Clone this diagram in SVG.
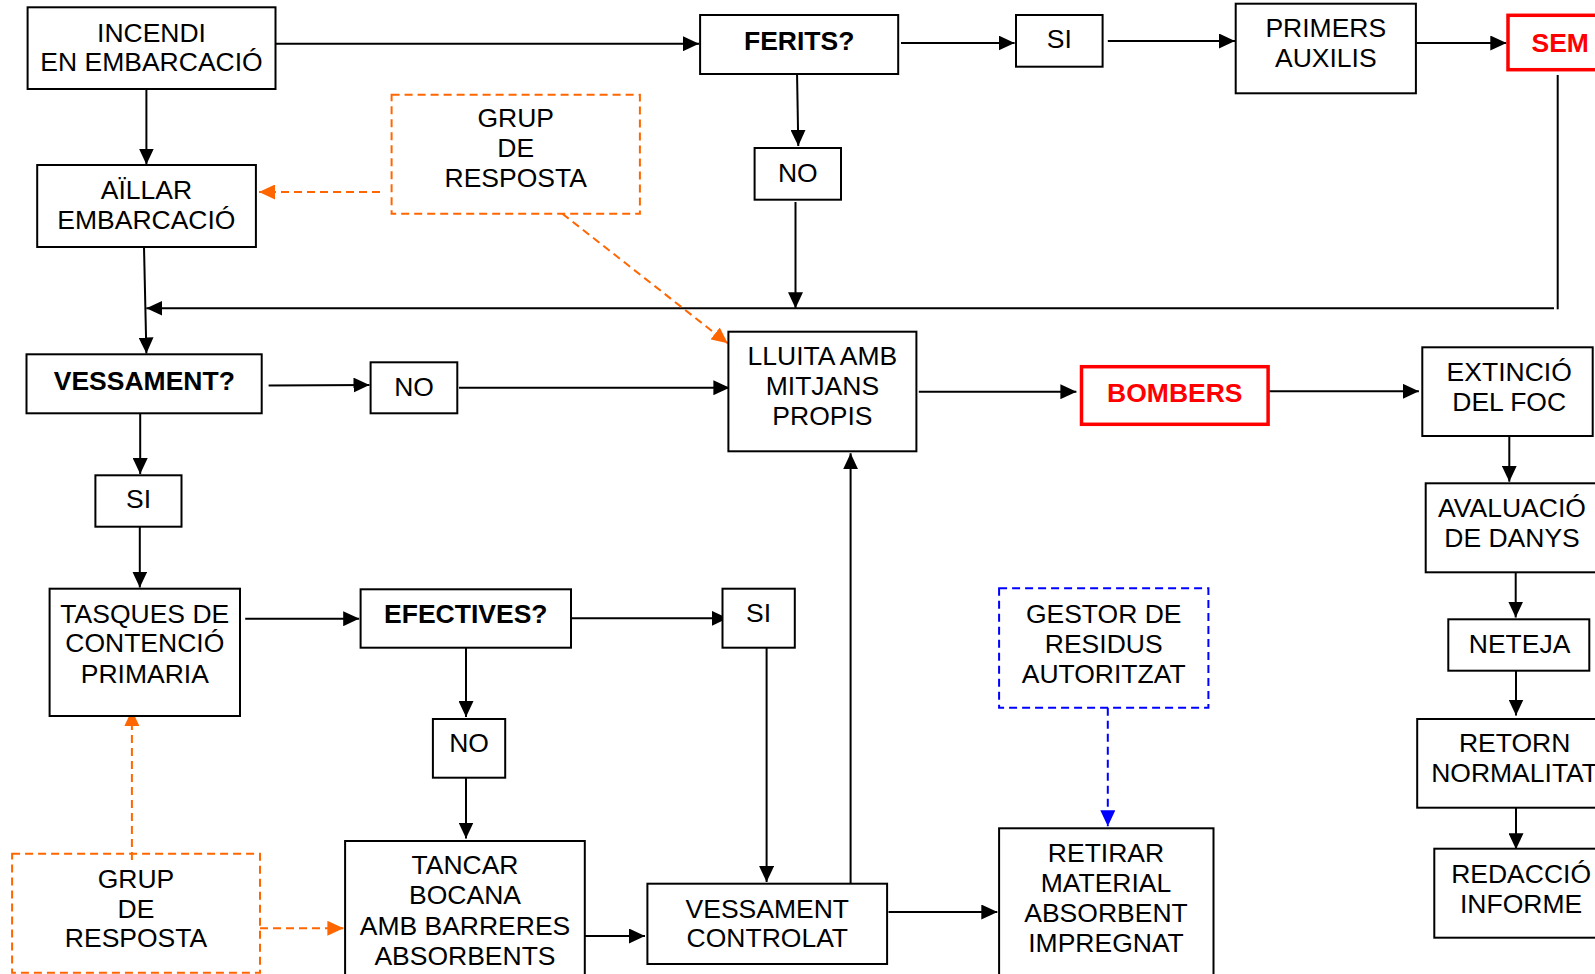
<svg xmlns="http://www.w3.org/2000/svg" width="1595" height="974" viewBox="0 0 1595 974">
<defs>
<marker id="ab" markerUnits="userSpaceOnUse" markerWidth="16" markerHeight="15" refX="16" refY="7.5" orient="auto"><path d="M0,0 L16,7.5 L0,15 z" fill="#000"/></marker>
<marker id="ao" markerUnits="userSpaceOnUse" markerWidth="16" markerHeight="15" refX="16" refY="7.5" orient="auto"><path d="M0,0 L16,7.5 L0,15 z" fill="#FF6600"/></marker>
<marker id="au" markerUnits="userSpaceOnUse" markerWidth="16" markerHeight="15" refX="16" refY="7.5" orient="auto"><path d="M0,0 L16,7.5 L0,15 z" fill="#0000FF"/></marker>
</defs>
<style>
text{font-family:"Liberation Sans",Arial,sans-serif;font-size:26.5px;fill:#000;text-anchor:middle}
.b{font-weight:bold}
.r{fill:#FF0000}
.box{fill:#fff;stroke:#000;stroke-width:2}
.rbox{fill:#fff;stroke:#FF0000;stroke-width:3.5}
.obox{fill:none;stroke:#FF6600;stroke-width:2;stroke-dasharray:8,5}
.ubox{fill:none;stroke:#0000FF;stroke-width:2;stroke-dasharray:8,5}
.c{fill:none;stroke:#000;stroke-width:2}
.ca{fill:none;stroke:#000;stroke-width:2;marker-end:url(#ab)}
.co{fill:none;stroke:#FF6600;stroke-width:2;stroke-dasharray:8,5;marker-end:url(#ao)}
.cu{fill:none;stroke:#0000FF;stroke-width:2;stroke-dasharray:8,5;marker-end:url(#au)}
</style>
<rect width="1595" height="974" fill="#fff"/>
<g id="connectors">
<line class="ca" x1="275.5" y1="43.7" x2="699" y2="43.7"/>
<line class="ca" x1="146.4" y1="89" x2="146.4" y2="164.5"/>
<line class="ca" x1="144" y1="247" x2="146.4" y2="353.5"/>
<line class="ca" x1="901" y1="43" x2="1014.6" y2="43"/>
<line class="ca" x1="797" y1="71" x2="798.3" y2="146"/>
<line class="ca" x1="795.5" y1="202" x2="795.5" y2="308.3"/>
<line class="ca" x1="1107.8" y1="41" x2="1235" y2="41"/>
<line class="ca" x1="1416" y1="43" x2="1506.3" y2="43"/>
<line class="c" x1="1557.7" y1="75" x2="1557.7" y2="309.3"/>
<line class="ca" x1="1554" y1="308.3" x2="146.4" y2="308.3"/>
<line class="co" x1="380" y1="192" x2="259" y2="192"/>
<line class="co" x1="562.4" y1="213.7" x2="727.7" y2="343.3"/>
<line class="ca" x1="268.6" y1="385.5" x2="369.5" y2="385"/>
<line class="ca" x1="459" y1="387.7" x2="729.4" y2="387.7"/>
<line class="ca" x1="140.2" y1="413.3" x2="140.2" y2="474"/>
<line class="ca" x1="139.8" y1="526.7" x2="139.8" y2="587.5"/>
<line class="ca" x1="918.8" y1="391.7" x2="1076.4" y2="391.7"/>
<line class="ca" x1="1268" y1="391.3" x2="1418.9" y2="391.3"/>
<line class="ca" x1="1509.3" y1="436" x2="1509.3" y2="481.7"/>
<line class="ca" x1="1515.7" y1="572.3" x2="1515.7" y2="617.5"/>
<line class="ca" x1="1516" y1="670.7" x2="1516" y2="715.5"/>
<line class="ca" x1="1516" y1="807.7" x2="1516" y2="849.3"/>
<line class="ca" x1="245.2" y1="618.7" x2="359.2" y2="618.7"/>
<line class="ca" x1="571" y1="618.3" x2="727.7" y2="618.3"/>
<line class="ca" x1="466" y1="647.7" x2="466" y2="717"/>
<line class="ca" x1="466" y1="777.7" x2="466" y2="838.5"/>
<line class="ca" x1="766.6" y1="647.7" x2="766.6" y2="882"/>
<line class="ca" x1="850.6" y1="883.7" x2="850.6" y2="453.3"/>
<line class="ca" x1="584.8" y1="936" x2="645" y2="936"/>
<line class="ca" x1="888.5" y1="912" x2="997.3" y2="912"/>
<line class="co" x1="131.9" y1="860" x2="131.9" y2="710"/>
<line class="co" x1="260" y1="928.3" x2="343.4" y2="928.3"/>
<line class="cu" x1="1107.8" y1="707.7" x2="1107.8" y2="826.3"/>
</g>
<g id="incendi"><rect class="box" x="27.6" y="7.3" width="247.9" height="81.7"/><text x="151.5" y="41.7">INCENDI</text><text x="151.5" y="70.7">EN EMBARCACIÓ</text></g>
<g id="aillar"><rect class="box" x="37.2" y="165" width="218.7" height="82"/><text x="146.4" y="199.3">AÏLLAR</text><text x="146.4" y="228.7">EMBARCACIÓ</text></g>
<g id="grup1"><rect class="obox" x="391.6" y="94.7" width="248.3" height="119"/><text x="515.7" y="126.5">GRUP</text><text x="515.7" y="156.5">DE</text><text x="515.7" y="186.5">RESPOSTA</text></g>
<g id="ferits"><rect class="box" x="700.1" y="15" width="198.1" height="59"/><text class="b" x="799.2" y="50">FERITS?</text></g>
<g id="si1"><rect class="box" x="1016" y="15" width="86.6" height="51.7"/><text x="1059.3" y="48">SI</text></g>
<g id="no1"><rect class="box" x="754.6" y="148" width="86.4" height="51.7"/><text x="797.8" y="181.7">NO</text></g>
<g id="primers"><rect class="box" x="1235.7" y="3.7" width="180.2" height="89.6"/><text x="1325.8" y="37.2">PRIMERS</text><text x="1325.8" y="67.2">AUXILIS</text></g>
<g id="sem"><rect class="rbox" x="1508" y="15.3" width="130" height="54.4"/><text class="b r" x="1531.5" y="51.7" style="text-anchor:start">SEM</text></g>
<g id="vessament"><rect class="box" x="26.5" y="354.3" width="235.2" height="59"/><text class="b" x="144.3" y="390">VESSAMENT?</text></g>
<g id="no2"><rect class="box" x="370.6" y="362.3" width="86.7" height="51"/><text x="414" y="395.7">NO</text></g>
<g id="lluita"><rect class="box" x="728.4" y="331.7" width="188" height="119.6"/><text x="822.4" y="365">LLUITA AMB</text><text x="822.4" y="395">MITJANS</text><text x="822.4" y="425">PROPIS</text></g>
<g id="bombers"><rect class="rbox" x="1081.5" y="366.7" width="186.6" height="57.6"/><text class="b r" x="1174.8" y="401.7">BOMBERS</text></g>
<g id="extincio"><rect class="box" x="1422.3" y="347.3" width="170.4" height="88.7"/><text x="1509.2" y="380.7">EXTINCIÓ</text><text x="1509.2" y="410.7">DEL FOC</text></g>
<g id="si2"><rect class="box" x="95.4" y="475.3" width="86.1" height="51.4"/><text x="138.5" y="508.3">SI</text></g>
<g id="avaluacio"><rect class="box" x="1425.7" y="483.3" width="200" height="89"/><text x="1512" y="516.7">AVALUACIÓ</text><text x="1512" y="546.7">DE DANYS</text></g>
<g id="tasques"><rect class="box" x="49.6" y="588.7" width="190.4" height="127.3"/><text x="144.8" y="623.3">TASQUES DE</text><text x="144.8" y="652.3">CONTENCIÓ</text><text x="144.8" y="683.3">PRIMARIA</text></g>
<g id="efectives"><rect class="box" x="360.6" y="589.3" width="210.4" height="58.4"/><text class="b" x="465.8" y="622.7">EFECTIVES?</text></g>
<g id="si3"><rect class="box" x="722.5" y="588.7" width="72.3" height="59"/><text x="758.6" y="621.7">SI</text></g>
<g id="gestor"><rect class="ubox" x="999.1" y="588.3" width="209.3" height="119.4"/><text x="1103.7" y="622.5">GESTOR DE</text><text x="1103.7" y="652.5">RESIDUS</text><text x="1103.7" y="682.5">AUTORITZAT</text></g>
<g id="neteja"><rect class="box" x="1448.3" y="619.3" width="141" height="51.4"/><text x="1519.6" y="652.7">NETEJA</text></g>
<g id="no3"><rect class="box" x="432.9" y="719" width="72.3" height="58.7"/><text x="469" y="751.7">NO</text></g>
<g id="retorn"><rect class="box" x="1417.2" y="719" width="210" height="88.7"/><text x="1514.6" y="751.7">RETORN</text><text x="1514.6" y="781.7">NORMALITAT</text></g>
<g id="redaccio"><rect class="box" x="1434.3" y="848.7" width="200" height="89"/><text x="1521.1" y="882.7">REDACCIÓ</text><text x="1521.1" y="912.7">INFORME</text></g>
<g id="grup2"><rect class="obox" x="12.1" y="853.7" width="247.9" height="119"/><text x="136" y="887.7">GRUP</text><text x="136" y="917.7">DE</text><text x="136" y="947.3">RESPOSTA</text></g>
<g id="tancar"><rect class="box" x="345.1" y="841" width="239.7" height="160"/><text x="465" y="874.3">TANCAR</text><text x="465" y="904.3">BOCANA</text><text x="465" y="935">AMB BARRERES</text><text x="465" y="965">ABSORBENTS</text></g>
<g id="controlat"><rect class="box" x="647.4" y="883.7" width="239.7" height="80.3"/><text x="767.3" y="918.3">VESSAMENT</text><text x="767.3" y="947.3">CONTROLAT</text></g>
<g id="retirar"><rect class="box" x="999.1" y="828.3" width="214.4" height="170"/><text x="1106" y="861.7">RETIRAR</text><text x="1106" y="891.7">MATERIAL</text><text x="1106" y="921.7">ABSORBENT</text><text x="1106" y="951.7">IMPREGNAT</text></g>
</svg>
